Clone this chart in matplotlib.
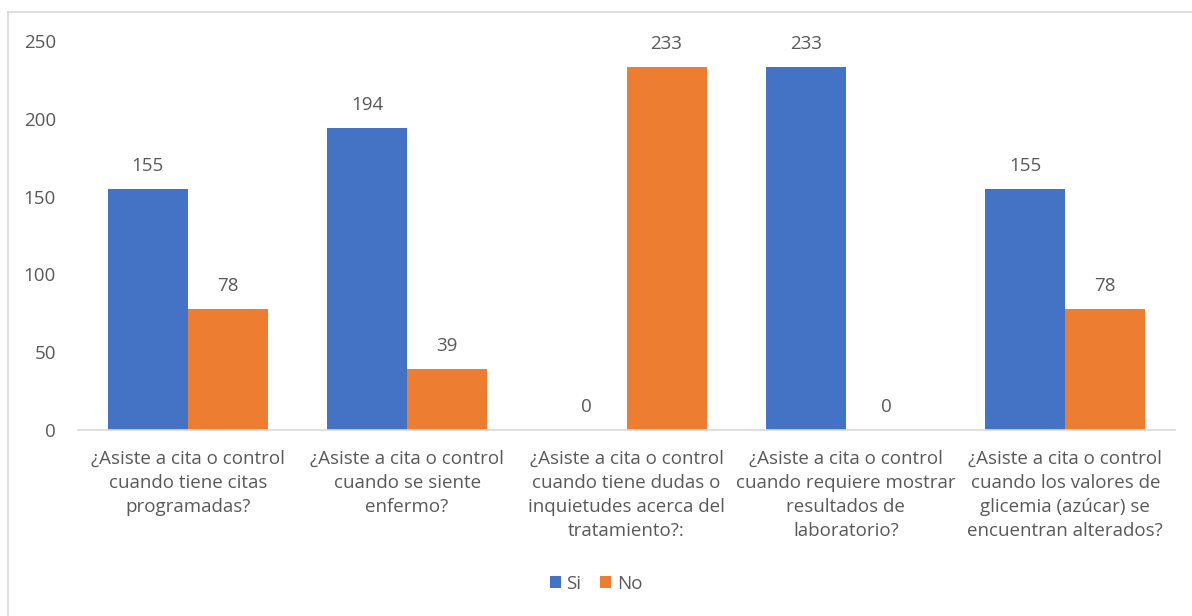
import matplotlib.pyplot as plt
import numpy as np
from matplotlib.lines import Line2D

# categorias y valores de la encuesta
categorias = [
    "¿Asiste a cita o control\ncuando tiene citas\nprogramadas?",
    "¿Asiste a cita o control\ncuando se siente\nenfermo?",
    "¿Asiste a cita o control\ncuando tiene dudas o\ninquietudes acerca del\ntratamiento?:",
    "¿Asiste a cita o control\ncuando requiere mostrar\nresultados de\nlaboratorio?",
    "¿Asiste a cita o control\ncuando los valores de\nglicemia (azúcar) se\nencuentran alterados?",
]
si = [155, 194, 0, 233, 155]
no = [78, 39, 233, 0, 78]
series = ["Si", "No"]

azul = "#4472C4"
naranja = "#ED7D31"
gris = "#595959"

plt.rcParams['font.family'] = ['Open Sans', 'DejaVu Sans']

fig = plt.figure(figsize=(11.92, 6.16), dpi=100)
ax = fig.add_axes([78/1192, 1 - 430/616, (1175-78)/1192, (430-41)/616])

x = np.arange(len(categorias))
w = 0.365
b1 = ax.bar(x - w/2, si, w, color=azul, label=series[0])
b2 = ax.bar(x + w/2, no, w, color=naranja, label=series[1])

for bars in (b1, b2):
    for r in bars:
        v = r.get_height()
        ax.text(r.get_x() + r.get_width()/2, v + 9, f"{int(v)}",
                ha='center', va='bottom', fontsize=13.5, color=gris)

ax.set_xlim(-0.5, len(categorias) - 0.5)
ax.set_ylim(0, 250)
ax.set_yticks(range(0, 251, 50))
ax.set_xticks(x)
ax.set_xticklabels(categorias, fontsize=13.5, color=gris, linespacing=1.45)
ax.tick_params(axis='y', length=0, labelsize=13.5, labelcolor=gris, pad=16)
ax.tick_params(axis='x', length=0, pad=14)
for s in ['top', 'right', 'left']:
    ax.spines[s].set_visible(False)
ax.spines['bottom'].set_color('#D9D9D9')
ax.spines['bottom'].set_linewidth(1.2)

ax.legend(loc='center', bbox_to_anchor=(0.5, 1 - 584/616), bbox_transform=fig.transFigure,
          ncol=2, frameon=False, fontsize=13.5, labelcolor=gris,
          handlelength=0.6, handleheight=0.6, handletextpad=0.3, columnspacing=1.0)

# marco del grafico
fig.add_artist(Line2D([8/1192, 1], [1 - 12/616, 1 - 12/616], color='#D9D9D9', lw=1.2))
fig.add_artist(Line2D([8/1192, 8/1192], [0, 1 - 12/616], color='#D9D9D9', lw=1.2))

fig.savefig('out.png', dpi=100)
